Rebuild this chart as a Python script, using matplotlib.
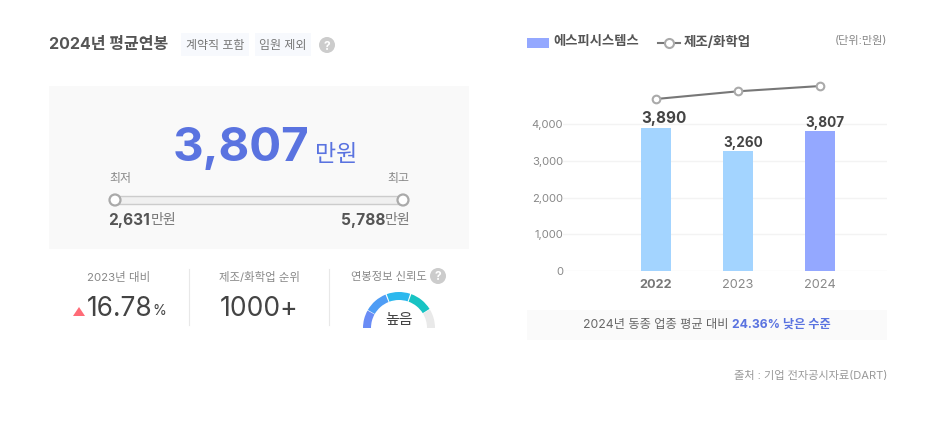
"""
2024 average salary panel: summary figures on the left, bar and line chart on the right
"""

import matplotlib
matplotlib.use("Agg")
import matplotlib.pyplot as plt
from matplotlib.patches import Circle, Polygon, Rectangle, Wedge

plt.rcParams["font.family"] = ["Inter", "Noto Sans CJK KR", "DejaVu Sans"]

years = ["2022", "2023", "2024"]
company_pay = [3890, 3260, 3807]
industry_pay = [4680, 4890, 5033]
bar_colors = ["#a3d4ff", "#a3d4ff", "#94a8ff"]
y_ticks = [0, 1000, 2000, 3000, 4000]

current_pay = "3,807"
lowest_pay = "2,631"
highest_pay = "5,788"
yoy_change = "16.78"
industry_rank = "1000+"

W, H = 945, 426
PX = 0.72  # one css pixel in points at dpi 100

fig = plt.figure(figsize=(W / 100, H / 100), dpi=100, facecolor="white")

# overlay in screen pixels for everything that is not the chart
bg = fig.add_axes([0, 0, 1, 1])
bg.set_xlim(0, W)
bg.set_ylim(H, 0)
bg.axis("off")


def label(x, y, s, px, color="#666666", ha="left", weight="normal", zorder=5):
    # +2 because va=center sits a little high with these fonts
    return bg.text(x, y + 2, s, fontsize=px * PX, color=color, ha=ha, va="center",
                   fontweight=weight, zorder=zorder)


def box(x0, y0, x1, y1, color, edge="none", zorder=1):
    bg.add_patch(Rectangle((x0, y0), x1 - x0, y1 - y0, facecolor=color,
                           edgecolor=edge, linewidth=1, zorder=zorder))


def help_icon(x, y, r=8):
    bg.add_patch(Circle((x, y), r, facecolor="#cccccc", edgecolor="none", zorder=3))
    bg.text(x, y, "?", fontsize=r * 1.5 * PX, color="white", ha="center", va="center_baseline",
            fontweight="bold", zorder=5)


# 1. Header
label(49, 43, "2024년 평균연봉", 16, color="#555555", weight="bold")
box(181, 33, 249, 56, "#f7f9fd")
box(255, 33, 311, 56, "#f7f9fd")
label(215, 44, "계약직 포함", 12, color="#777777", ha="center")
label(283, 44, "임원 제외", 12, color="#777777", ha="center")
help_icon(327, 45)

# 2. Main figure and min/max slider
box(49, 86, 469, 249, "#f9f9f9")
label(241, 147, current_pay, 47.5, color="#5a73e0", ha="center", weight="bold")
label(315, 153, "만원", 23, color="#5a73e0")
label(109, 177, "최저", 12, color="#888888")
label(409, 177, "최고", 12, color="#888888", ha="right")
box(115, 196, 403, 204, "#f0f0f0", edge="#cccccc", zorder=2)
for cx in (115, 403):
    bg.add_patch(Circle((cx, 200), 5.5, facecolor="white", edgecolor="#aaaaaa",
                        linewidth=1.6, zorder=3))
label(108, 219, lowest_pay, 15.5, color="#555555", weight="bold")
label(151, 218, "만원", 14, color="#777777")
label(385, 219, highest_pay, 15.5, color="#555555", ha="right", weight="bold")
label(410, 218, "만원", 14, color="#777777", ha="right")

# 3. Three small stats
label(119, 275, "2023년 대비", 11.5, color="#888888", ha="center")
label(259, 275, "제조/화학업 순위", 11.4, color="#888888", ha="center")
label(389, 275, "연봉정보 신뢰도", 11.3, color="#888888", ha="center")
help_icon(438, 276)
for sx in (189, 329):
    bg.plot([sx, sx], [269, 325], color="#e8e8e8", linewidth=0.8)

bg.add_patch(Polygon([(73, 316), (85, 316), (79, 307)], facecolor="#ff6b77", edgecolor="none"))
label(87, 307, yoy_change, 26.3, color="#444444")
label(152, 309, "%", 14, color="#444444")
label(259, 307, industry_rank, 26.5, color="#444444", ha="center")

# gauge, drawn as arc pieces
gauge_parts = [(-180, -151, "#6a8cf5"), (-150, -112, "#4f9df5"), (-110, -72, "#2cb8ee"),
               (-70, -32, "#18c3c3"), (-31, 0, "#e9e9e9")]
for t0, t1, col in gauge_parts:
    bg.add_patch(Wedge((399, 328), 36, t0, t1, width=8, facecolor=col, edgecolor="none"))
label(399, 318, "높음", 15, color="#444444", ha="center")

# 4. Legend row
box(527, 38, 549, 48, "#94a8ff")
label(553, 39.5, "에스피시스템스", 13.3, color="#555555", weight="bold")
bg.plot([658, 680], [43, 43], color="#777777", linewidth=1.5, zorder=2)
bg.plot([669], [43], marker="o", markersize=6.5, markerfacecolor="white",
        markeredgecolor="#aaaaaa", markeredgewidth=1.5, zorder=3)
label(684, 39.5, "제조/화학업", 13.5, color="#555555", weight="bold")
label(887, 39, "(단위:만원)", 11.2, color="#888888", ha="right")

# 5. Bar and line chart, axes placed so 0 sits at y=271 and 4,000 at y=124
left, right, bottom, top = 563, 887, 271, 80
ax = fig.add_axes([left / W, 1 - bottom / H, (right - left) / W, (bottom - top) / H])
ax.patch.set_alpha(0)
ax.set_xlim((left - 656) / 82, (right - 656) / 82)
ax.set_ylim(0, (bottom - top) / 36.75 * 1000)
x = list(range(len(years)))
ax.bar(x, company_pay, width=30 / 82, color=bar_colors, zorder=2)
ax.plot(x, industry_pay, color="#777777", linewidth=1.5, marker="o", markersize=5.5,
        markerfacecolor="white", markeredgecolor="#aaaaaa", markeredgewidth=1.5,
        clip_on=False, zorder=3)
# value labels start at the left edge of each bar
for i, v in enumerate(company_pay):
    ax.annotate(f"{v:,}", (i, v), xytext=(-15 * PX, 7 if i == 0 else 6),
                textcoords="offset points", ha="left", va="center",
                fontsize=(15.3 if i == 0 else 13.5) * PX,
                fontweight="bold", color="#444444")
ax.set_yticks(y_ticks)
ax.set_yticklabels([f"{t:,}" for t in y_ticks], fontsize=11.2 * PX, color="#888888")
ax.set_xticks(x)
ax.set_xticklabels(years, fontsize=12.7 * PX, color="#888888")
ax.get_xticklabels()[0].set_fontweight("bold")
ax.get_xticklabels()[0].set_color("#777777")
ax.tick_params(length=0)
ax.tick_params(axis="y", pad=0)
ax.tick_params(axis="x", pad=6)
ax.grid(axis="y", color="#f3f3f3", linewidth=1)
ax.set_axisbelow(True)
for side in ax.spines.values():
    side.set_visible(False)

# 6. Note under the chart and source line
box(527, 310, 887, 340, "#fafafa")
label(583, 323, "2024년 동종 업종 평균 대비", 12.2, color="#666666")
label(732, 323, "24.36% 낮은 수준", 12.2, color="#5a73e0", weight="bold")
label(887, 374, "출처 : 기업 전자공시자료(DART)", 11.2, color="#999999", ha="right")

fig.savefig("out.png", dpi=100)
